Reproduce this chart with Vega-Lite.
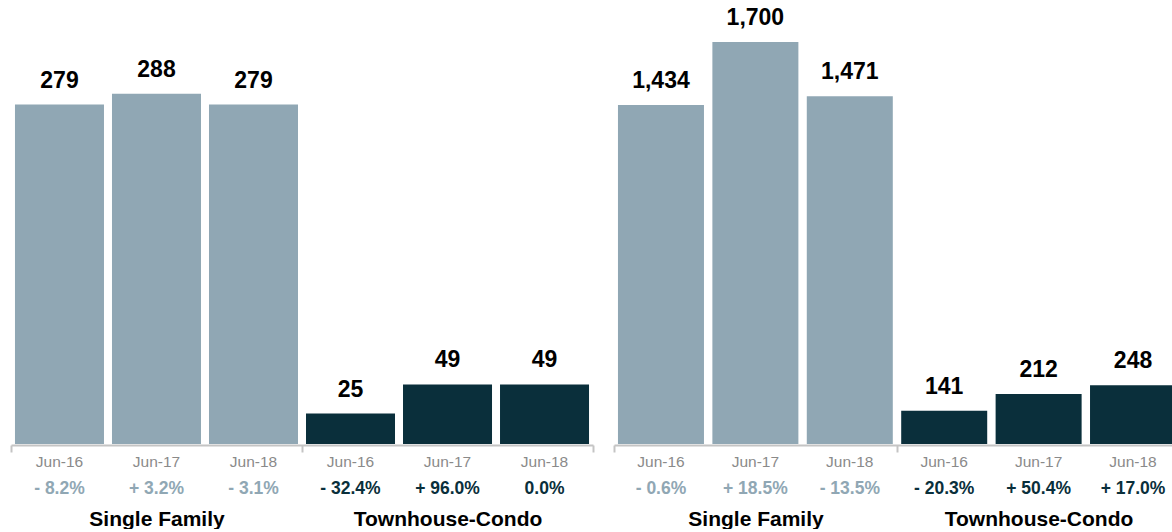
{
  "$schema": "https://vega.github.io/schema/vega-lite/v6.json",
  "padding": {"left": 10, "top": 0, "right": 0, "bottom": 0},
  "bounds": "flush",
  "spacing": 21,
  "config": {"view": {"stroke": null}, "font": "Liberation Sans"},
  "datasets": {
    "left": [
      {"group": "Single Family", "year": "Jun-16", "key": "SF Jun-16", "value": 279, "pct": "- 8.2%"},
      {"group": "Single Family", "year": "Jun-17", "key": "SF Jun-17", "value": 288, "pct": "+ 3.2%"},
      {"group": "Single Family", "year": "Jun-18", "key": "SF Jun-18", "value": 279, "pct": "- 3.1%"},
      {"group": "Townhouse-Condo", "year": "Jun-16", "key": "TC Jun-16", "value": 25, "pct": "- 32.4%"},
      {"group": "Townhouse-Condo", "year": "Jun-17", "key": "TC Jun-17", "value": 49, "pct": "+ 96.0%"},
      {"group": "Townhouse-Condo", "year": "Jun-18", "key": "TC Jun-18", "value": 49, "pct": "0.0%"}
    ],
    "right": [
      {"group": "Single Family", "year": "Jun-16", "key": "SF Jun-16", "value": 1434, "pct": "- 0.6%"},
      {"group": "Single Family", "year": "Jun-17", "key": "SF Jun-17", "value": 1700, "pct": "+ 18.5%"},
      {"group": "Single Family", "year": "Jun-18", "key": "SF Jun-18", "value": 1471, "pct": "- 13.5%"},
      {"group": "Townhouse-Condo", "year": "Jun-16", "key": "TC Jun-16", "value": 141, "pct": "- 20.3%"},
      {"group": "Townhouse-Condo", "year": "Jun-17", "key": "TC Jun-17", "value": 212, "pct": "+ 50.4%"},
      {"group": "Townhouse-Condo", "year": "Jun-18", "key": "TC Jun-18", "value": 248, "pct": "+ 17.0%"}
    ]
  },
  "hconcat": [
    {
      "data": {"name": "left"},
      "width": 582,
      "height": 444,
      "resolve": {"scale": {"x": "independent"}, "axis": {"x": "independent"}},
      "layer": [
        {
          "layer": [
            {
              "mark": {"type": "bar"},
              "encoding": {
                "x": {"field": "key", "type": "nominal", "sort": null, "scale": {"paddingInner": 0.0825, "paddingOuter": 0.041}, "axis": null},
                "y": {"field": "value", "type": "quantitative", "scale": {"domain": [0, 365], "nice": false, "zero": true}, "axis": null},
                "color": {"condition": {"test": "datum.group === 'Single Family'", "value": "#90a7b4"}, "value": "#0a2f3b"}
              }
            },
            {
              "mark": {"type": "text", "dy": -17, "baseline": "alphabetic", "fontSize": 23, "fontWeight": "bold", "color": "#000000"},
              "encoding": {
                "x": {"field": "key", "type": "nominal", "sort": null, "axis": null},
                "y": {"field": "value", "type": "quantitative"},
                "text": {"field": "value", "type": "quantitative", "format": ","}
              }
            },
            {
              "mark": {"type": "text", "dy": 22.7, "baseline": "alphabetic", "fontSize": 15.5, "color": "#8a8a8a"},
              "encoding": {
                "x": {"field": "key", "type": "nominal", "sort": null, "axis": null},
                "y": {"datum": 0, "type": "quantitative"},
                "text": {"field": "year", "type": "nominal"}
              }
            },
            {
              "mark": {"type": "text", "dy": 50, "baseline": "alphabetic", "fontSize": 17.5, "fontWeight": "bold"},
              "encoding": {
                "x": {"field": "key", "type": "nominal", "sort": null, "axis": null},
                "y": {"datum": 0, "type": "quantitative"},
                "text": {"field": "pct", "type": "nominal"},
                "color": {"condition": {"test": "datum.group === 'Single Family'", "value": "#90a7b4"}, "value": "#0a2f3b"}
              }
            }
          ]
        },
        {
          "mark": {"type": "text", "text": "", "opacity": 0},
          "encoding": {
            "x": {
              "field": "group", "type": "nominal", "sort": null,
              "scale": {"paddingInner": 0, "paddingOuter": 0},
              "axis": {"title": null, "orient": "bottom", "offset": 1, "domain": true, "domainColor": "#c4c4c4", "domainWidth": 2, "ticks": true, "tickBand": "extent", "tickColor": "#c4c4c4", "tickWidth": 2, "tickSize": 7, "labelPadding": 73, "labelBaseline": "alphabetic", "labelFontSize": 21, "labelFontWeight": "bold", "labelColor": "#000000", "labelAngle": 0, "labelLimit": 0, "grid": false}
            }
          }
        }
      ]
    },
    {
      "data": {"name": "right"},
      "width": 566,
      "height": 444,
      "resolve": {"scale": {"x": "independent"}, "axis": {"x": "independent"}},
      "layer": [
        {
          "layer": [
            {
              "mark": {"type": "bar"},
              "encoding": {
                "x": {"field": "key", "type": "nominal", "sort": null, "scale": {"paddingInner": 0.089, "paddingOuter": 0.042}, "axis": null},
                "y": {"field": "value", "type": "quantitative", "scale": {"domain": [0, 1878], "nice": false, "zero": true}, "axis": null},
                "color": {"condition": {"test": "datum.group === 'Single Family'", "value": "#90a7b4"}, "value": "#0a2f3b"}
              }
            },
            {
              "mark": {"type": "text", "dy": -17, "baseline": "alphabetic", "fontSize": 23, "fontWeight": "bold", "color": "#000000"},
              "encoding": {
                "x": {"field": "key", "type": "nominal", "sort": null, "axis": null},
                "y": {"field": "value", "type": "quantitative"},
                "text": {"field": "value", "type": "quantitative", "format": ","}
              }
            },
            {
              "mark": {"type": "text", "dy": 22.7, "baseline": "alphabetic", "fontSize": 15.5, "color": "#8a8a8a"},
              "encoding": {
                "x": {"field": "key", "type": "nominal", "sort": null, "axis": null},
                "y": {"datum": 0, "type": "quantitative"},
                "text": {"field": "year", "type": "nominal"}
              }
            },
            {
              "mark": {"type": "text", "dy": 50, "baseline": "alphabetic", "fontSize": 17.5, "fontWeight": "bold"},
              "encoding": {
                "x": {"field": "key", "type": "nominal", "sort": null, "axis": null},
                "y": {"datum": 0, "type": "quantitative"},
                "text": {"field": "pct", "type": "nominal"},
                "color": {"condition": {"test": "datum.group === 'Single Family'", "value": "#90a7b4"}, "value": "#0a2f3b"}
              }
            }
          ]
        },
        {
          "mark": {"type": "text", "text": "", "opacity": 0},
          "encoding": {
            "x": {
              "field": "group", "type": "nominal", "sort": null,
              "scale": {"paddingInner": 0, "paddingOuter": 0},
              "axis": {"title": null, "orient": "bottom", "offset": 1, "domain": true, "domainColor": "#c4c4c4", "domainWidth": 2, "ticks": true, "tickBand": "extent", "tickColor": "#c4c4c4", "tickWidth": 2, "tickSize": 7, "labelPadding": 73, "labelBaseline": "alphabetic", "labelFontSize": 21, "labelFontWeight": "bold", "labelColor": "#000000", "labelAngle": 0, "labelLimit": 0, "grid": false}
            }
          }
        }
      ]
    }
  ]
}
